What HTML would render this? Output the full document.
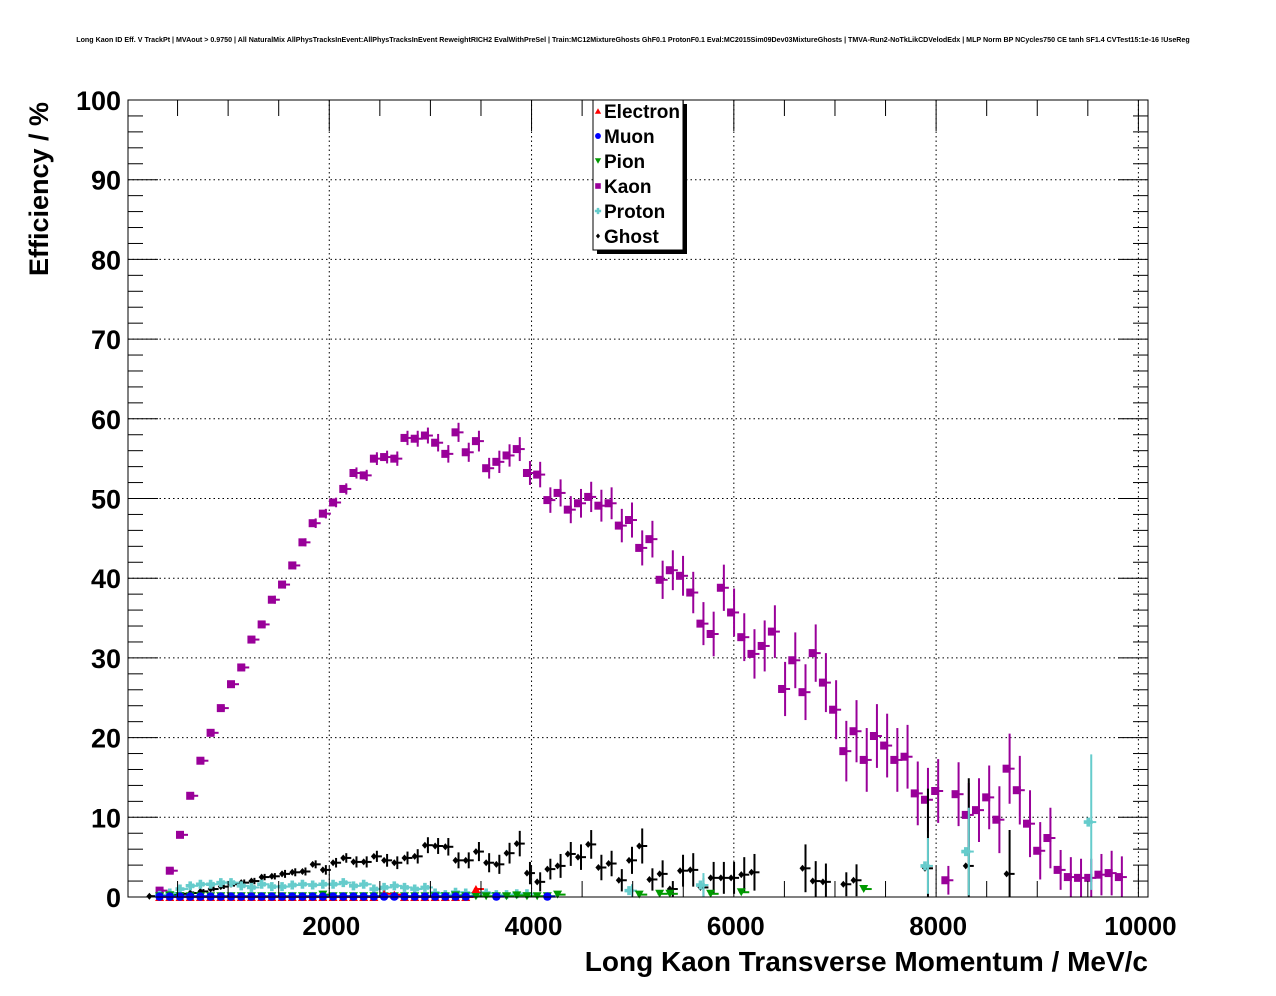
<!DOCTYPE html>
<html><head><meta charset="utf-8"><style>
html,body{margin:0;padding:0;background:#fff;}
svg{display:block;font-family:"Liberation Sans",Arial,sans-serif;}
</style></head><body>
<svg id="chart" width="1276" height="996" viewBox="0 0 1276 996" xmlns="http://www.w3.org/2000/svg">
<rect width="1276" height="996" fill="#fff"/>
<text x="633" y="42" font-size="7.1" font-weight="bold" text-anchor="middle">Long Kaon ID Eff. V TrackPt | MVAout &gt; 0.9750 | All NaturalMix AllPhysTracksInEvent:AllPhysTracksInEvent ReweightRICH2 EvalWithPreSel | Train:MC12MixtureGhosts GhF0.1 ProtonF0.1 Eval:MC2015Sim09Dev03MixtureGhosts | TMVA-Run2-NoTkLikCDVelodEdx | MLP Norm BP NCycles750 CE tanh SF1.4 CVTest15:1e-16 !UseReg</text>
<g id="grid"></g>
<g id="series"></g>
<rect x="128" y="100" width="1020" height="797" fill="none" stroke="#000" stroke-width="1"/>
<g id="axes"></g>
<text x="48" y="189" font-size="27" font-weight="bold" text-anchor="middle" transform="rotate(-90 48 189)">Efficiency / %</text>
<text x="1148" y="971" font-size="28" font-weight="bold" text-anchor="end">Long Kaon Transverse Momentum / MeV/c</text>
<g id="legend">
<rect x="597" y="104" width="90" height="150" fill="#000"/>
<rect x="593" y="100" width="90" height="150" fill="#fff" stroke="#000" stroke-width="1"/>
</g>
</svg>
<script>
// ---- data ----
const binFirstCenter = 251;   // MeV, first bin centre
const binStep = 100.9;        // MeV
const xTicks = [2000, 4000, 6000, 8000, 10000];
const xTickLabels = ["2000", "4000", "6000", "8000", "10000"];
const yTicks = [0, 10, 20, 30, 40, 50, 60, 70, 80, 90, 100];
const yTickLabels = ["0", "10", "20", "30", "40", "50", "60", "70", "80", "90", "100"];
const N = null;
const kaonValues = [N,0.8,3.3,7.8,12.7,17.1,20.6,23.7,26.7,28.8,32.3,34.2,37.3,39.2,41.6,44.5,46.9,48.1,49.5,51.2,53.2,52.9,55.0,55.2,55.0,57.6,57.5,57.9,57.0,55.6,58.3,55.8,57.2,53.8,54.6,55.4,56.2,53.2,53.0,49.8,50.7,48.6,49.4,50.2,49.1,49.4,46.6,47.3,43.8,44.9,39.8,41.0,40.3,38.2,34.3,33.0,38.8,35.7,32.6,30.5,31.5,33.3,26.1,29.7,25.7,30.6,26.9,23.5,18.3,20.8,17.2,20.2,19.0,17.2,17.6,13.0,12.2,13.3,2.1,12.9,10.3,10.9,12.5,9.7,16.1,13.4,9.2,5.8,7.4,3.4,2.5,2.4,2.4,2.8,3.0,2.5];
const kaonErrors = [N,0.2,0.3,0.3,0.3,0.3,0.3,0.3,0.4,0.4,0.4,0.4,0.5,0.5,0.5,0.5,0.6,0.6,0.6,0.7,0.7,0.7,0.8,0.8,0.9,0.9,1.0,1.0,1.1,1.1,1.2,1.2,1.3,1.3,1.4,1.4,1.5,1.5,1.6,1.6,1.7,1.7,1.8,1.9,2.0,2.0,2.1,2.2,2.2,2.3,2.4,2.5,2.5,2.6,2.7,2.8,2.9,3.0,3.0,3.1,3.2,3.3,3.4,3.5,3.5,3.6,3.7,3.7,3.8,3.9,4.0,4.0,4.0,4.0,4.0,4.0,4.0,4.0,1.8,4.0,4.0,4.0,4.0,4.2,4.4,4.3,4.2,3.6,3.8,2.5,2.5,2.4,2.4,2.6,2.8,2.6];
const ghostValues = [0.1,0.2,0.3,0.4,0.5,0.7,1.0,1.3,1.6,1.8,2.0,2.5,2.6,2.9,3.1,3.2,4.1,3.4,4.3,4.9,4.4,4.4,5.1,4.6,4.3,4.9,5.1,6.5,6.4,6.3,4.6,4.6,5.7,4.3,4.1,5.5,6.7,3.0,1.9,3.5,3.9,5.4,5.0,6.6,3.7,4.2,2.1,4.6,6.4,2.2,2.9,1.0,3.3,3.4,1.2,2.4,2.4,2.4,2.8,3.1,N,N,N,N,3.6,2.0,1.9,N,1.6,2.1,N,N,N,N,N,N,3.6,N,N,N,3.9,N,N,N,2.9];
const ghostErrors = [0.1,0.1,0.2,0.2,0.2,0.3,0.3,0.3,0.3,0.4,0.4,0.4,0.4,0.5,0.5,0.5,0.5,0.6,0.6,0.6,0.7,0.7,0.7,0.8,0.8,0.8,0.9,1.0,1.0,1.1,1.0,1.0,1.2,1.2,1.2,1.3,1.6,1.4,1.2,1.3,1.5,1.5,1.6,1.8,1.6,1.6,1.4,1.7,2.2,1.4,1.7,1.0,2.0,2.1,1.2,2.0,2.0,2.0,2.2,2.3,N,N,N,N,3.0,2.5,2.3,N,1.5,2.0,N,N,N,N,N,N,10,N,N,N,11,N,N,N,5.5];
const protonValues = [N,0.2,0.5,1.0,1.4,1.6,1.6,1.8,1.8,1.4,1.2,1.6,1.3,1.3,1.5,1.6,1.5,1.6,1.6,1.8,1.4,1.6,1.0,1.2,1.4,1.2,1.0,1.2,0.5,0.3,0.6,0.5,0.4,0.5,0.3,0.3,0.4,0.4,N,N,N,N,N,N,N,N,N,0.8,N,N,N,N,N,N,1.5,N,N,N,N,N,N,N,N,N,N,N,N,N,N,N,N,N,N,N,N,N,3.9,N,N,N,5.7,N,N,N,N,N,N,N,N,N,N,N,9.4];
const protonErrors = [N,0.1,0.2,0.2,0.3,0.3,0.3,0.3,0.3,0.3,0.3,0.3,0.3,0.3,0.3,0.3,0.3,0.3,0.3,0.3,0.3,0.3,0.3,0.3,0.3,0.3,0.3,0.3,0.2,0.2,0.2,0.2,0.2,0.2,0.2,0.2,0.2,0.2,N,N,N,N,N,N,N,N,N,0.8,N,N,N,N,N,N,1.5,N,N,N,N,N,N,N,N,N,N,N,N,N,N,N,N,N,N,N,N,N,3.5,N,N,N,5.5,N,N,N,N,N,N,N,N,N,N,N,8.5];
const pionValues = [N,0.1,0.2,0.1,0.1,0.1,0.1,0.1,0.1,0.1,0.1,0.1,0.1,0.1,0.1,0.1,0.1,0.3,0.1,0.1,0.1,0.1,0.1,0.1,0.1,0.1,0.1,0.1,0.1,0.1,0.2,0.1,0.1,0.1,0.1,0.1,0.2,0.1,0.1,0.1,0.3,N,N,N,N,N,N,N,0.3,N,0.4,0.4,N,N,N,0.4,N,N,0.6,N,N,N,N,N,N,N,N,N,N,N,1.0];
const muonValues = [N,0.05,0.05,0.05,0.05,0.05,0.05,0.05,0.05,0.05,0.05,0.05,0.05,0.05,0.05,0.05,0.05,0.05,0.05,0.05,0.05,0.05,0.05,0.05,0.05,0.05,0.05,0.05,0.05,0.05,0.05,0.05,N,N,0.05,N,N,N,N,0.05];
const electronValues = [N,0.0,0.0,0.0,0.0,0.0,0.0,0.0,0.0,0.0,0.0,0.0,0.0,0.0,0.0,0.0,0.0,0.0,0.0,0.0,0.0,0.0,0.0,0.4,0.3,0.0,0.0,0.0,0.0,0.0,0.0,0.0,1.0];
const legendLabels = ["Electron", "Muon", "Pion", "Kaon", "Proton", "Ghost"];

// ---- scales ----
const X0 = 128, X1 = 1148, Y0 = 897, Y1 = 100;
const xMin = 10, xMax = 10095, yMin = 0, yMax = 100;
function xs(v){ return X0 + (v - xMin) / (xMax - xMin) * (X1 - X0); }
function ys(v){ return Y0 - (v - yMin) / (yMax - yMin) * (Y0 - Y1); }
function binCenter(i){ return binFirstCenter + i * binStep; }
const NS = "http://www.w3.org/2000/svg";
function mk(tag, attrs, parent){
  const e = document.createElementNS(NS, tag);
  for (const k in attrs) e.setAttribute(k, attrs[k]);
  parent.appendChild(e);
  return e;
}
const grid = document.getElementById('grid');
const axes = document.getElementById('axes');
const series = document.getElementById('series');

xTicks.forEach(function(t){
  if (t >= xMax) return;
  const l = mk('line', {x1: xs(t), x2: xs(t), y1: Y1, y2: Y0, stroke: '#000', 'stroke-dasharray': '1.5,3', 'stroke-width': 1}, grid);
  
  
});
yTicks.forEach(function(t){
  if (t === 0 || t === 100) return;
  const l = mk('line', {x1: X0, x2: X1, y1: ys(t), y2: ys(t), stroke: '#000', 'stroke-dasharray': '1.5,3', 'stroke-width': 1}, grid);
  
  
});

for (let v = 500; v < xMax; v += 500) {
  const major = (v % 2000 === 0);
  const len = major ? 31 : 16;
  const t1 = mk('line', {x1: xs(v), x2: xs(v), y1: Y0, y2: Y0 - len, stroke: '#000'}, axes);
  
  
  const t2 = mk('line', {x1: xs(v), x2: xs(v), y1: Y1, y2: Y1 + len, stroke: '#000'}, axes);
  
  
}
for (let v = 2; v < 100; v += 2) {
  const major = (v % 10 === 0);
  const len = major ? 30 : 15;
  const t1 = mk('line', {x1: X0, x2: X0 + len, y1: ys(v), y2: ys(v), stroke: '#000'}, axes);
  
  
  const t2 = mk('line', {x1: X1, x2: X1 - len, y1: ys(v), y2: ys(v), stroke: '#000'}, axes);
  
  
}
xTicks.forEach(function(t, i){
  const tx = mk('text', {x: xs(t) + 2, y: 935, 'font-size': 26, 'font-weight': 'bold', 'text-anchor': 'middle'}, axes);
  tx.textContent = xTickLabels[i];
  
  
});
yTicks.forEach(function(t, i){
  const tx = mk('text', {x: 121, y: ys(t) + 10, 'font-size': 27, 'font-weight': 'bold', 'text-anchor': 'end'}, axes);
  tx.textContent = yTickLabels[i];
  
  
});

function marker(shape, cx, cy, color, parent, s){
  s = s || 1;
  let e;
  if (shape === 'square') e = mk('rect', {x: cx - 4*s, y: cy - 4*s, width: 8*s, height: 8*s, fill: color}, parent);
  else if (shape === 'circle') e = mk('circle', {cx: cx, cy: cy, r: 4.2*s, fill: color}, parent);
  else if (shape === 'tridown') e = mk('polygon', {points: (cx-4.5*s)+','+(cy-4*s)+' '+(cx+4.5*s)+','+(cy-4*s)+' '+cx+','+(cy+4*s), fill: color}, parent);
  else if (shape === 'triup') e = mk('polygon', {points: (cx-4.5*s)+','+(cy+4*s)+' '+(cx+4.5*s)+','+(cy+4*s)+' '+cx+','+(cy-4*s), fill: color}, parent);
  else if (shape === 'cross') e = mk('path', {d: 'M'+(cx-4.5*s)+' '+(cy-1.8*s)+'h'+(2.7*s)+'v'+(-2.7*s)+'h'+(3.6*s)+'v'+(2.7*s)+'h'+(2.7*s)+'v'+(3.6*s)+'h'+(-2.7*s)+'v'+(2.7*s)+'h'+(-3.6*s)+'v'+(-2.7*s)+'h'+(-2.7*s)+'z', fill: color}, parent);
  else e = mk('polygon', {points: cx+','+(cy-3.5*s)+' '+(cx+3*s)+','+cy+' '+cx+','+(cy+3.5*s)+' '+(cx-3*s)+','+cy, fill: color}, parent);
  return e;
}
function drawSeries(name, values, errors, color, shape){
  const g = mk('g', {}, series);
  
  
  values.forEach(function(v, i){
    if (v === null || v === undefined) return;
    const cx = xs(binCenter(i)), cy = ys(v);
    const mx = cx - 3;
    const hl = mk('line', {x1: mx - 2, x2: cx + 5, y1: cy, y2: cy, stroke: color, 'stroke-width': 2}, g);
    
    
    const err = errors ? errors[i] : null;
    if (err) {
      const vl = mk('line', {x1: cx, x2: cx, y1: ys(Math.min(100, v + err)), y2: ys(Math.max(0, v - err)), stroke: color, 'stroke-width': 2}, g);
      
      
    }
    const m = marker(shape, mx, cy, color, g);
    
    
  });
}
drawSeries('kaon', kaonValues, kaonErrors, '#990099', 'square');
drawSeries('ghost', ghostValues, ghostErrors, '#000000', 'diamond');
drawSeries('proton', protonValues, protonErrors, '#66cccc', 'cross');
drawSeries('pion', pionValues, null, '#009900', 'tridown');
drawSeries('electron', electronValues, null, '#ff0000', 'triup');
drawSeries('muon', muonValues, null, '#0000ff', 'circle');

const legend = document.getElementById('legend');
const legColors = ['#ff0000', '#0000ff', '#009900', '#990099', '#66cccc', '#000000'];
const legShapes = ['triup', 'circle', 'tridown', 'square', 'cross', 'diamond'];
legendLabels.forEach(function(lab, i){
  const cy = 111 + i * 25;
  const g = mk('g', {}, legend);
  
  
  const m = marker(legShapes[i], 598, cy, legColors[i], g, 0.7);
  
  
  const t = mk('text', {x: 604, y: cy + 7, 'font-size': 19, 'font-weight': 'bold'}, g);
  t.textContent = lab;
  
  
});
</script>
</body></html>
